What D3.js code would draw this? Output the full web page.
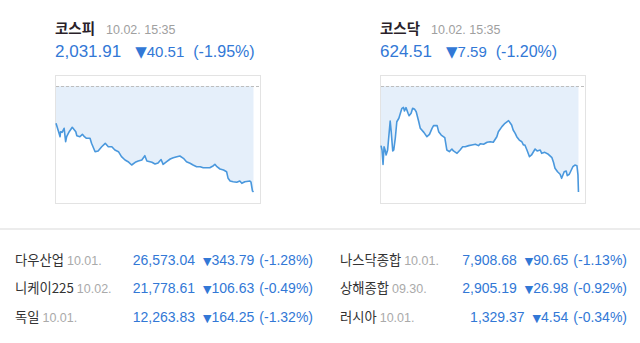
<!DOCTYPE html>
<html>
<head>
<meta charset="utf-8">
<script src="https://cdnjs.cloudflare.com/ajax/libs/d3/7.8.5/d3.min.js"></script>
<style>
  body { margin: 0; background: #fff; }
  text { font-family: "Liberation Sans", "Noto Sans CJK KR", sans-serif; }
  .kr { font-family: "Noto Sans CJK KR", sans-serif; }
  .tri { font-family: "DejaVu Sans", sans-serif; }
</style>
</head>
<body>
<div id="chart-area"></div>
<script>
// intraday index values, minutes after 09:00
var kospiTime = [0, 3, 6, 8, 9, 12, 16, 19, 21, 26, 32, 39, 41, 47, 52, 56, 60, 67, 70, 77, 83, 90, 97, 103, 110, 116, 123, 129, 136, 142, 149, 156, 162, 169, 175, 179, 189, 195, 201, 207, 211, 218, 225, 231, 238, 244, 251, 257, 264, 270, 277, 284, 290, 303, 310, 313, 317, 323, 330, 336, 339, 343, 349, 356, 362, 366, 372, 382, 384, 387, 389];
var kospiValue = [2058.16, 2056.25, 2054.34, 2053.04, 2054.95, 2054.72, 2056.25, 2051.13, 2053.04, 2054.95, 2056.64, 2054.95, 2053.42, 2053.04, 2053.96, 2053.04, 2052.43, 2052.43, 2050.52, 2047.31, 2047.58, 2049.22, 2050.52, 2049.22, 2049.22, 2047.96, 2047.31, 2045.40, 2044.14, 2043.49, 2042.23, 2043.26, 2043.75, 2044.14, 2045.78, 2043.75, 2043.26, 2042.61, 2042.99, 2044.33, 2042.49, 2043.49, 2044.52, 2045.02, 2045.40, 2045.67, 2044.79, 2043.49, 2042.88, 2042.23, 2041.58, 2041.58, 2041.20, 2041.20, 2041.96, 2042.49, 2041.58, 2040.70, 2040.32, 2039.67, 2037.14, 2036.11, 2035.84, 2035.62, 2036.11, 2035.23, 2035.84, 2036.11, 2035.73, 2032.29, 2031.91];

var kosdaqTime = [0, 2, 4, 6, 8, 10, 13, 15, 18, 20, 23, 25, 28, 31, 35, 38, 41, 44, 46, 49, 53, 55, 59, 62, 66, 69, 74, 77, 84, 90, 95, 100, 103, 110, 113, 118, 125, 129, 134, 139, 142, 149, 155, 160, 165, 172, 178, 185, 191, 195, 201, 208, 214, 220, 227, 230, 237, 243, 250, 256, 259, 263, 266, 271, 276, 279, 282, 286, 291, 295, 302, 306, 312, 315, 321, 328, 335, 338, 341, 346, 351, 354, 359, 363, 365, 369, 376, 380, 384, 386, 387];
var kosdaqValue = [627.83, 627.52, 626.49, 627.75, 627.52, 627.16, 627.52, 628.36, 629.59, 628.83, 627.45, 627.52, 628.36, 629.54, 629.79, 630.15, 630.50, 630.57, 630.31, 630.55, 630.15, 629.97, 630.15, 630.50, 630.43, 630.26, 629.54, 629.07, 628.78, 628.47, 628.64, 629.07, 629.26, 629.26, 628.83, 628.59, 628.40, 627.52, 627.40, 627.59, 627.45, 627.28, 627.52, 627.75, 627.75, 627.83, 627.88, 627.93, 627.83, 627.97, 627.93, 628.07, 628.11, 628.07, 628.47, 628.83, 629.19, 629.43, 629.62, 629.31, 628.95, 628.71, 628.47, 628.23, 628.11, 627.88, 627.88, 627.52, 627.04, 627.16, 627.59, 627.45, 627.52, 627.28, 627.35, 627.21, 626.97, 626.64, 626.21, 625.96, 625.78, 625.49, 625.96, 626.01, 625.68, 625.78, 626.32, 626.44, 626.39, 625.73, 624.51];

var mainNames = ["코스피", "코스닥"];
var mainStamps = ["10.02. 15:35", "10.02. 15:35"];
var mainClose = [2031.91, 624.51];
var mainChange = [40.51, 7.59];
var mainPct = [-1.95, -1.20];

var worldNames = ["다우산업", "니케이225", "독일", "나스닥종합", "상해종합", "러시아"];
var worldDates = ["10.01.", "10.02.", "10.01.", "10.01.", "09.30.", "10.01."];
var worldClose = [26573.04, 21778.61, 12263.83, 7908.68, 2905.19, 1329.37];
var worldChange = [343.79, 106.63, 164.25, 90.65, 26.98, 4.54];
var worldPct = [-1.28, -0.49, -1.32, -1.13, -0.92, -0.34];

var width = 640, height = 343;
var blue = "#3278d6";
var fmt = d3.format(",.2f");

var svg = d3.select("#chart-area").append("svg")
  .attr("width", width)
  .attr("height", height);

var panels = [
  { left: 55, time: kospiTime, value: kospiValue, plotW: 198 },
  { left: 380, time: kosdaqTime, value: kosdaqValue, plotW: 199 }
];

panels.forEach(function(p, i) {
  var boxTop = 75, boxH = 128, boxW = 205;
  var prev = mainClose[i] + mainChange[i];

  var x = d3.scaleLinear().domain([0, 390]).range([1, 1 + p.plotW]);
  var y = d3.scaleLinear().domain([mainClose[i], prev]).range([117, 11]);

  var g = svg.append("g").attr("transform", "translate(" + p.left + "," + boxTop + ")");

  g.append("rect")
    .attr("x", 0.5).attr("y", 0.5)
    .attr("width", boxW).attr("height", boxH)
    .attr("fill", "#fff")
    .attr("stroke", "#e3e3e3");

  var pts = p.time.map(function(t, k) { return [t, p.value[k]]; });

  var area = d3.area()
    .x(function(d) { return x(d[0]); })
    .y0(y(prev))
    .y1(function(d) { return y(d[1]); });

  g.append("path")
    .datum(pts)
    .attr("d", area)
    .attr("fill", "#e5effa");

  g.append("line")
    .attr("x1", 1).attr("x2", boxW)
    .attr("y1", Math.round(y(prev)) + 0.5).attr("y2", Math.round(y(prev)) + 0.5)
    .attr("stroke", "#bdbdbd")
    .attr("stroke-dasharray", "3,2");

  var line = d3.line()
    .x(function(d) { return x(d[0]); })
    .y(function(d) { return y(d[1]); });

  g.append("path")
    .datum(pts)
    .attr("d", line)
    .attr("fill", "none")
    .attr("stroke", "#4a98dd")
    .attr("stroke-width", 1.6)
    .attr("stroke-linejoin", "round");

  // header
  var h = svg.append("g").attr("transform", "translate(" + p.left + ",0)");
  h.append("text")
    .attr("class", "kr")
    .attr("x", 0).attr("y", 34)
    .attr("font-size", "14.5px")
    .attr("font-weight", "bold")
    .attr("fill", "#2a1f2a")
    .text(mainNames[i]);
  h.append("text")
    .attr("x", 51).attr("y", 34)
    .attr("font-size", "12.5px")
    .attr("fill", "#a0a0a0")
    .text(mainStamps[i]);

  var v = h.append("text")
    .attr("x", 0).attr("y", 57)
    .attr("font-size", "17px")
    .attr("fill", blue);
  v.append("tspan").text(fmt(mainClose[i]));
  v.append("tspan").attr("class", "tri").attr("dx", 14).attr("font-size", "15px").text("▼");
  v.append("tspan").attr("font-size", "15px").text(mainChange[i].toFixed(2));
  v.append("tspan").attr("dx", 9).attr("font-size", "16px").text("(" + mainPct[i].toFixed(2) + "%)");
});

// separator
svg.append("rect")
  .attr("x", 0).attr("y", 228)
  .attr("width", width).attr("height", 2)
  .attr("fill", "#ececec");

// world indices table
var rowY = [265, 293, 322];
var cols = [
  { nameX: 15, endX: 313 },
  { nameX: 340, endX: 627 }
];

worldNames.forEach(function(name, i) {
  var c = cols[Math.floor(i / 3)];
  var yy = rowY[i % 3];

  var t = svg.append("text")
    .attr("x", c.nameX).attr("y", yy)
    .attr("font-size", "13.3px");
  t.append("tspan").attr("class", "kr").attr("fill", "#333").text(name);
  t.append("tspan").attr("dx", 3).attr("fill", "#aaa").attr("font-size", "12.5px").text(worldDates[i]);

  var r = svg.append("text")
    .attr("x", c.endX).attr("y", yy)
    .attr("text-anchor", "end")
    .attr("font-size", "14px")
    .attr("fill", blue);
  r.append("tspan").text(fmt(worldClose[i]));
  r.append("tspan").attr("class", "tri").attr("dx", 8).attr("font-size", "11px").text("▼");
  r.append("tspan").text(worldChange[i].toFixed(2));
  r.append("tspan").attr("dx", 5).text("(" + worldPct[i].toFixed(2) + "%)");
});
</script>
</body>
</html>
